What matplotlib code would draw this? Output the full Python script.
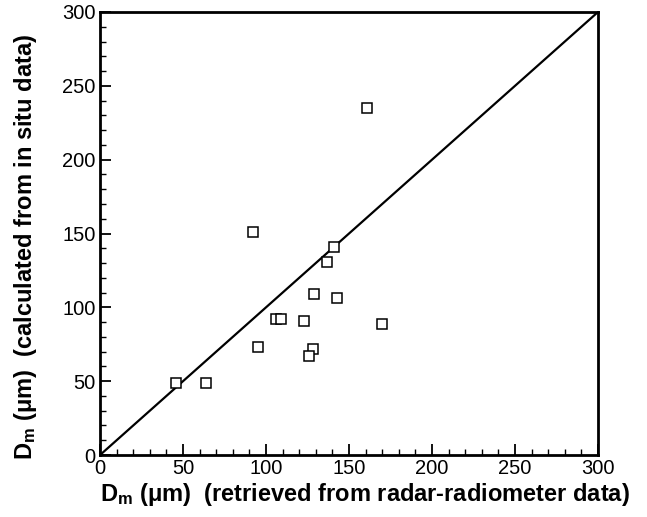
import numpy as np
import matplotlib
matplotlib.use("Agg")
import matplotlib.pyplot as plt

plt.rcParams['font.family'] = ['Liberation Sans', 'DejaVu Sans']
plt.rcParams['mathtext.fontset'] = 'custom'
plt.rcParams['mathtext.rm'] = 'Liberation Sans'
plt.rcParams['mathtext.bf'] = 'Liberation Sans:bold'

# retrieved (radar-radiometer) vs calculated (in situ) Dm, in micrometres
dm_retrieved = [161, 92, 141, 137, 129, 143, 106, 109, 123, 170, 95, 128, 126, 46, 64]
dm_insitu = [235, 151, 141, 131, 109, 106, 92, 92, 91, 89, 73, 72, 67, 49, 49]

one_to_one = [0, 300]
major_ticks = [0, 50, 100, 150, 200, 250, 300]

fig = plt.figure(figsize=(6.47, 5.17), dpi=100)
ax = fig.add_axes([0.1546, 0.1199, 0.7697, 0.8569])

ax.plot(one_to_one, one_to_one, color='black', lw=1.6)
ax.plot(dm_retrieved, dm_insitu, linestyle='none', marker='s', markersize=7.5,
        markerfacecolor='white', markeredgecolor='black', markeredgewidth=1.1)

ax.set_xlim(0, 300)
ax.set_ylim(0, 300)
ax.set_xticks(major_ticks)
ax.set_yticks(major_ticks)
ax.set_xticks(np.arange(0, 301, 10), minor=True)
ax.set_yticks(np.arange(0, 301, 10), minor=True)
ax.tick_params(which='both', direction='in', top=False, right=False, labelsize=14.5)
ax.tick_params(which='major', length=8, width=1.3, pad=3)
ax.tick_params(which='minor', length=4, width=1.0)
for sp in ax.spines.values():
    sp.set_linewidth(2)

ax.set_xlabel(r'$\mathbf{D_m}$ ($\mathbf{\mu}$m)  (retrieved from radar-radiometer data)',
              fontsize=17, fontweight='bold', va='center', ha='center')
ax.set_ylabel(r'$\mathbf{D_m}$ ($\mathbf{\mu}$m)  (calculated from in situ data)',
              fontsize=17, fontweight='bold', va='center', ha='center')
ax.xaxis.set_label_coords(0.532, -0.09)
ax.yaxis.set_label_coords(-0.15, 0.47)

fig.savefig('out.png', dpi=100)
